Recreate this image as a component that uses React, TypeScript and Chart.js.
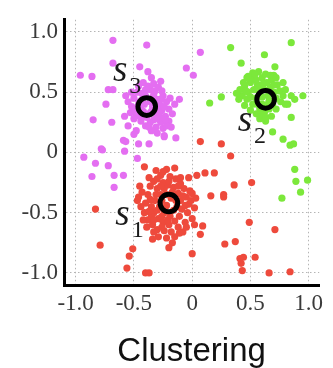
import React, { useEffect, useRef } from 'react';
import { Chart, registerables } from 'chart.js';
Chart.register(...registerables);

const tickValues = [-1, -0.5, 0, 0.5, 1];
const tickLabels = ['-1.0', '-0.5', '0', '0.5', '1.0'];
const axisTitle = 'Clustering';

const magentaPoints: [number, number][] = [
  [-0.50, 0.45], [-0.47, 0.50], [-0.45, 0.42], [-0.44, 0.36], [-0.48, 0.32], [-0.42, 0.30], [-0.40, 0.47], [-0.36, 0.52],
  [-0.33, 0.48], [-0.30, 0.44], [-0.28, 0.40], [-0.26, 0.35], [-0.30, 0.31], [-0.33, 0.27], [-0.36, 0.25], [-0.40, 0.22],
  [-0.44, 0.26], [-0.52, 0.38], [-0.55, 0.42], [-0.38, 0.55], [-0.33, 0.57], [-0.29, 0.54], [-0.25, 0.47], [-0.22, 0.42],
  [-0.20, 0.36], [-0.23, 0.30], [-0.27, 0.25], [-0.31, 0.21], [-0.35, 0.18], [-0.25, 0.20], [-0.20, 0.26], [-0.17, 0.32],
  [-0.46, 0.55], [-0.42, 0.58], [-0.50, 0.28], [-0.53, 0.33], [-0.39, 0.29], [-0.35, 0.34], [-0.31, 0.37], [-0.36, 0.42],
  [-0.41, 0.40], [-0.43, 0.49], [-0.28, 0.29], [-0.22, 0.22], [-0.19, 0.45], [-0.15, 0.40], [-0.27, 0.59], [-0.48, 0.18],
  [-0.30, 0.16], [-0.24, 0.14], [-0.57, 0.47], [-0.35, 0.62],
  [-0.46, 0.40], [-0.43, 0.44], [-0.38, 0.32], [-0.34, 0.45], [-0.32, 0.51], [-0.27, 0.44], [-0.24, 0.38], [-0.31, 0.28],
  [-0.37, 0.21], [-0.42, 0.34], [-0.49, 0.36], [-0.40, 0.52], [-0.28, 0.33], [-0.23, 0.27], [-0.26, 0.51], [-0.45, 0.30],
  [-0.52, 0.50], [-0.34, 0.38],
  [-0.68, 0.93], [-0.39, 0.89], [-0.96, 0.64], [-0.86, 0.63], [-0.68, 0.74], [-0.45, 0.71], [-0.38, 0.67], [-0.72, 0.52],
  [-0.68, 0.52], [-0.74, 0.40], [-0.85, 0.27], [-0.69, 0.25], [-0.58, 0.30], [-0.55, 0.22], [-0.59, 0.10], [-0.57, 0.09],
  [-0.50, 0.15], [-0.46, 0.07], [-0.37, 0.07], [-0.78, 0.03], [-0.93, -0.04], [0.07, 0.83], [-0.05, 0.70], [0.01, 0.64],
  [-0.11, 0.44], [-0.14, 0.12], [-0.24, 0.13], [-0.18, 0.21], [-0.83, -0.09], [-0.72, -0.11], [-0.86, -0.20], [-0.67, -0.19],
  [-0.59, -0.19], [-0.67, -0.29], [-0.77, 0.02], [-0.58, 0.01], [-0.47, -0.05],
];

const greenPoints: [number, number][] = [
  [0.45, 0.55], [0.48, 0.50], [0.50, 0.58], [0.53, 0.62], [0.56, 0.56], [0.58, 0.50], [0.55, 0.45], [0.52, 0.40],
  [0.47, 0.44], [0.43, 0.47], [0.41, 0.52], [0.60, 0.62], [0.64, 0.58], [0.67, 0.54], [0.70, 0.50], [0.72, 0.45],
  [0.69, 0.40], [0.66, 0.36], [0.62, 0.33], [0.58, 0.36], [0.55, 0.32], [0.60, 0.40], [0.65, 0.47], [0.62, 0.52],
  [0.68, 0.60], [0.73, 0.56], [0.75, 0.51], [0.76, 0.42], [0.72, 0.36], [0.68, 0.30], [0.63, 0.26], [0.58, 0.28],
  [0.50, 0.35], [0.45, 0.39], [0.40, 0.44], [0.38, 0.49], [0.47, 0.62], [0.52, 0.66], [0.57, 0.67], [0.63, 0.65],
  [0.70, 0.64], [0.78, 0.47], [0.80, 0.40], [0.65, 0.40], [0.57, 0.55], [0.44, 0.58],
  [0.60, 0.46], [0.56, 0.40], [0.53, 0.52], [0.50, 0.46], [0.61, 0.57], [0.66, 0.43], [0.70, 0.56], [0.46, 0.51],
  [0.67, 0.64], [0.55, 0.60],
  [0.85, 0.91], [0.33, 0.87], [0.62, 0.81], [0.42, 0.74], [0.71, 0.71], [0.54, 0.65], [0.48, 0.63], [0.72, 0.62],
  [0.78, 0.58], [0.80, 0.52], [0.15, 0.41], [0.25, 0.46], [0.95, 0.47], [0.85, 0.47], [0.88, 0.44], [0.82, 0.40],
  [0.85, 0.29], [0.59, 0.31], [0.63, 0.29], [0.69, 0.17], [0.78, 0.11], [0.84, 0.06], [0.87, 0.07], [0.88, -0.14],
  [0.89, -0.24], [0.99, -0.23], [0.93, -0.33], [0.77, -0.38],
];

const redPoints: [number, number][] = [
  [-0.30, -0.30], [-0.27, -0.35], [-0.32, -0.40], [-0.35, -0.45], [-0.33, -0.50], [-0.29, -0.55], [-0.25, -0.58], [-0.20, -0.60],
  [-0.15, -0.57], [-0.11, -0.53], [-0.09, -0.47], [-0.10, -0.40], [-0.12, -0.34], [-0.16, -0.29], [-0.21, -0.27], [-0.25, -0.25],
  [-0.38, -0.35], [-0.40, -0.42], [-0.41, -0.50], [-0.38, -0.56], [-0.34, -0.60], [-0.30, -0.64], [-0.24, -0.65], [-0.18, -0.66],
  [-0.12, -0.62], [-0.06, -0.58], [-0.04, -0.50], [-0.03, -0.43], [-0.05, -0.37], [-0.07, -0.30], [-0.10, -0.26], [-0.14, -0.22],
  [-0.19, -0.20], [-0.27, -0.19], [-0.33, -0.24], [-0.36, -0.28], [-0.28, -0.45], [-0.24, -0.50], [-0.16, -0.48], [-0.14, -0.40],
  [-0.22, -0.35], [-0.26, -0.40], [-0.43, -0.33], [-0.44, -0.45], [-0.39, -0.62], [-0.29, -0.70], [-0.22, -0.71], [-0.15, -0.70],
  [-0.08, -0.66], [0.00, -0.55], [0.02, -0.46], [-0.01, -0.40], [-0.31, -0.15], [-0.22, -0.14], [-0.35, -0.53], [-0.19, -0.53],
  [-0.37, -0.21], [-0.47, -0.40], [-0.02, -0.32], [-0.26, -0.62],
  [-0.22, -0.44], [-0.18, -0.38], [-0.24, -0.30], [-0.31, -0.35], [-0.36, -0.39], [-0.30, -0.48], [-0.26, -0.53], [-0.21, -0.56],
  [-0.13, -0.45], [-0.17, -0.33], [-0.08, -0.36], [-0.06, -0.44], [-0.37, -0.49], [-0.33, -0.56], [-0.27, -0.28], [-0.20, -0.24],
  [-0.12, -0.28], [-0.05, -0.62], [-0.11, -0.67], [-0.33, -0.66], [-0.42, -0.56], [-0.45, -0.28], [-0.30, -0.22], [0.03, -0.38],
  [-0.17, -0.75],
  [-0.41, -0.12], [-0.46, -0.37], [-0.83, -0.47], [-0.79, -0.77], [-0.51, -0.80], [-0.54, -0.86], [-0.56, -0.96], [-0.40, -1.00],
  [-0.37, -1.00], [-0.34, -0.72], [-0.20, -0.79], [0.00, -0.84], [0.02, -0.60], [0.09, -0.61], [0.07, -0.68], [0.28, -0.76],
  [0.37, -0.74], [0.49, -0.58], [0.71, -0.64], [0.41, -0.88], [0.44, -0.87], [0.42, -0.92], [0.43, -0.98], [0.54, -0.87],
  [0.66, -1.00], [0.84, -0.99], [0.07, 0.09], [0.25, 0.07], [0.33, -0.03], [-0.25, -0.16], [-0.15, -0.13], [-0.10, -0.21],
  [-0.03, -0.21], [0.04, -0.19], [0.11, -0.17], [0.19, -0.17], [0.36, -0.27], [0.51, -0.25], [0.16, -0.36], [0.27, -0.35],
  [0.27, -0.37], [0.00, -0.34],
];

const centroids: [number, number][] = [
  [-0.20, -0.42],
  [0.63, 0.44],
  [-0.39, 0.38],
];
const centroidNames = ['s', 's', 's'];
const centroidSubs = ['1', '2', '3'];
const labelAnchors: [number, number][] = [
  [-0.66, -0.60],
  [0.39, 0.18],
  [-0.68, 0.595],
];

const toXY = (arr: [number, number][]) => arr.map(([x, y]) => ({ x, y }));

export default function App() {
  const ref = useRef<HTMLCanvasElement | null>(null);
  useEffect(() => {
    if (!ref.current) return;
    const labelPlugin = {
      id: 'centroidLabels',
      afterDatasetsDraw(chart: any) {
        const { ctx, scales } = chart;
        ctx.save();
        ctx.fillStyle = '#1a1a1a';
        ctx.textBaseline = 'alphabetic';
        ctx.textAlign = 'left';
        labelAnchors.forEach(([ax, ay], i) => {
          const px = scales.x.getPixelForValue(ax);
          const py = scales.y.getPixelForValue(ay);
          ctx.font = 'italic 37px "Liberation Serif"';
          ctx.fillText(centroidNames[i], px, py);
          const w = ctx.measureText(centroidNames[i]).width;
          ctx.font = '24px "Liberation Serif"';
          ctx.fillText(centroidSubs[i], px + w + 2, py + 12);
        });
        ctx.restore();
      },
    };
    const chart = new Chart(ref.current, {
      type: 'scatter',
      data: {
        datasets: [
          { data: toXY(magentaPoints), backgroundColor: '#E46EF1', pointRadius: 3.6, borderWidth: 0, order: 3 },
          { data: toXY(greenPoints), backgroundColor: '#7CE83B', pointRadius: 3.6, borderWidth: 0, order: 2 },
          { data: toXY(redPoints), backgroundColor: '#EE4A3C', pointRadius: 3.6, borderWidth: 0, order: 1 },
          {
            data: toXY(centroids),
            backgroundColor: 'rgba(0,0,0,0)',
            borderColor: '#000',
            borderWidth: 5,
            pointRadius: 8.8,
            order: 0,
          },
        ],
      },
      options: {
        responsive: false,
        animation: false,
        layout: { padding: { top: 7, right: 0, left: 0, bottom: 0 } },
        plugins: { legend: { display: false }, tooltip: { enabled: false } },
        scales: {
          x: {
            type: 'linear',
            min: -1.1,
            max: 1.09,
            afterFit: (s: any) => { s.height = 83; },
            afterBuildTicks: (s: any) => { s.ticks = tickValues.map((v) => ({ value: v })); },
            ticks: {
              callback: (v: any) => tickLabels[tickValues.indexOf(Number(v))] ?? '',
              font: { family: 'Liberation Serif', size: 23 },
              color: '#3a3a3a',
              padding: 5,
              maxRotation: 0,
            },
            grid: { color: '#b5b5b5', lineWidth: 1, drawTicks: false },
            border: { color: '#000', width: 3, dash: [1.5, 2.5] },
            title: {
              display: true,
              text: axisTitle,
              font: { family: 'Liberation Sans', size: 33, lineHeight: 1 },
              color: '#111',
              padding: { top: 0, bottom: 0 },
            },
          },
          y: {
            type: 'linear',
            min: -1.1,
            max: 1.1,
            afterFit: (s: any) => { s.width = 64; },
            afterBuildTicks: (s: any) => { s.ticks = tickValues.map((v) => ({ value: v })); },
            ticks: {
              callback: (v: any) => tickLabels[tickValues.indexOf(Number(v))] ?? '',
              font: { family: 'Liberation Serif', size: 23 },
              color: '#3a3a3a',
              padding: 6,
            },
            grid: { color: '#b5b5b5', lineWidth: 1, drawTicks: false },
            border: { color: '#000', width: 3, dash: [1.5, 2.5] },
          },
        },
      },
      plugins: [labelPlugin],
    });
    return () => chart.destroy();
  }, []);
  return (
    <div style={{ position: 'fixed', left: 0, top: 0, width: 333, height: 368, background: '#fff' }}>
      <canvas ref={ref} width={333} height={368} style={{ display: 'block', width: 333, height: 368 }} />
    </div>
  );
}
